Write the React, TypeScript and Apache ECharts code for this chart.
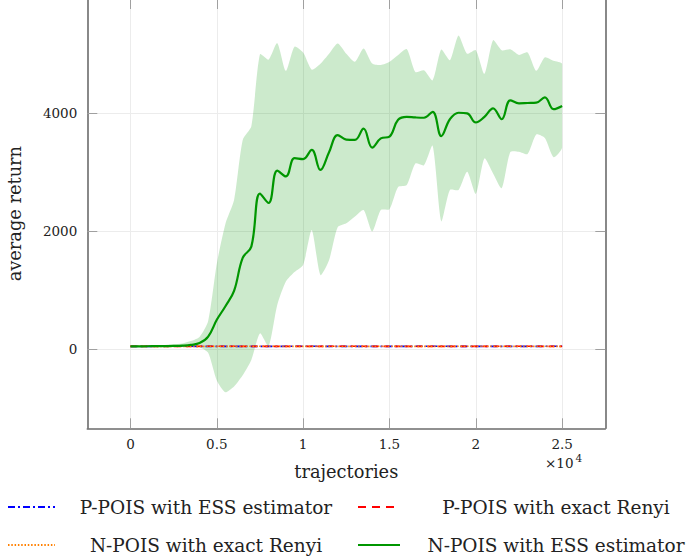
import React, { useEffect, useRef } from "react";
import * as echarts from "echarts";

// ---------- data ----------
const bandX = [
  0, 500, 1000, 1500, 2000, 2500, 3000, 3500, 4000, 4500,
  5000, 5500, 6000, 6500, 7000, 7500, 8000, 8500, 9000, 9500,
  10000, 10500, 11000, 11500, 12000, 12500, 13000, 13500, 14000, 14500,
  15000, 15500, 16000, 16500, 17000, 17500, 18000, 18500, 19000, 19500,
  20000, 20500, 21000, 21500, 22000, 22500, 23000, 23500, 24000, 24500,
  25000,
];
const meanReturn = [
  50, 50, 52, 53, 55, 57, 62, 75, 105, 215,
  500, 730, 990, 1550, 1740, 2640, 2480, 3030, 2930, 3240,
  3225, 3380, 3040, 3340, 3630, 3555, 3550, 3740, 3420, 3575,
  3605, 3890, 3940, 3930, 3925, 4025, 3615, 3900, 4010, 4000,
  3845, 3940, 4085, 3900, 4220, 4170, 4175, 4180, 4270, 4070,
  4125,
];
const upperBound = [
  60, 60, 65, 70, 75, 85, 100, 140, 210, 480,
  1450, 2130, 2530, 3550, 3780, 5000, 4910, 5190, 4720, 5130,
  5030, 4740, 4840, 5010, 5185, 5010, 4875, 5100, 4845, 4820,
  4875, 4990, 5090, 4700, 4730, 4560, 5080, 4900, 5320, 5010,
  5070, 4670, 5240, 5070, 5085, 4990, 5030, 4720, 4950, 4890,
  4835,
];
const lowerBound = [
  45, 45, 45, 45, 45, 44, 42, 40, 35, -60,
  -530, -730, -630, -440, -180, 270, 50, 750, 1150, 1310,
  1430, 2020, 1260, 1510, 2070, 2135, 2250, 2360, 1995, 2360,
  2375, 2750, 2785, 3150, 3120, 3450, 2170, 2700, 2700, 3010,
  2635, 3235, 2980, 2730, 3345, 3350, 3310, 3640, 3580, 3255,
  3420,
];
const flatX = [0, 2500, 5000, 7500, 10000, 12500, 15000, 17500, 20000, 22500, 25000];
const pPoisEss = [50, 51, 50, 50, 51, 50, 50, 51, 50, 50, 51];
const pPoisRenyi = [50, 50, 51, 50, 50, 51, 50, 50, 50, 51, 50];
const nPoisRenyi = [51, 50, 50, 51, 50, 50, 51, 50, 51, 50, 50];

const xTicks = [0, 5000, 10000, 15000, 20000, 25000];
const yTicks = [0, 2000, 4000];
const legendNames = [
  "P-POIS with ESS estimator",
  "P-POIS with exact Renyi",
  "N-POIS with exact Renyi",
  "N-POIS with ESS estimator",
];

const FONT = "DejaVu Serif";
const GREEN = "#009600";

export default function App() {
  const ref = useRef<HTMLDivElement>(null);

  useEffect(() => {
    if (!ref.current) return;
    const chart = echarts.init(ref.current, undefined, { renderer: "svg" });

    const zip = (xs: number[], ys: number[]) => xs.map((x, i) => [x, ys[i]]);
    const bandRows = bandX.map((x, i) => [x, lowerBound[i], upperBound[i]]);

    const axisLineStyle = { color: "#6b6b6b", width: 1.6 };
    const tickStyle = { color: "#a0a0a0", width: 1 };

    const option: any = {
      animation: false,
      textStyle: { fontFamily: FONT },
      grid: {
        left: 87.3,
        right: 82.7,
        top: -1,
        bottom: 129.7,
        containLabel: false,
        outerBoundsMode: "none",
      },
      xAxis: [
        {
          type: "value",
          position: "bottom",
          min: -2500,
          max: 27500,
          name: "trajectories",
          nameLocation: "middle",
          nameGap: 34,
          nameTextStyle: { fontFamily: FONT, fontSize: 17.8, color: "#222" },
          axisLine: { show: true, onZero: false, lineStyle: axisLineStyle },
          axisTick: { show: true, inside: true, length: 10, lineStyle: tickStyle, customValues: xTicks },
          axisLabel: {
            show: true,
            margin: 9,
            fontFamily: FONT,
            fontSize: 13.5,
            color: "#222",
            customValues: xTicks,
            formatter: (v: number) => String(v / 10000),
          },
          splitLine: { show: true, lineStyle: { color: "#ececec", width: 1 } },
        },
        {
          type: "value",
          position: "top",
          min: -2500,
          max: 27500,
          axisLine: { show: true, onZero: false, lineStyle: axisLineStyle },
          axisTick: { show: true, inside: true, length: 10, lineStyle: tickStyle, customValues: xTicks },
          axisLabel: { show: false },
          splitLine: { show: false },
        },
      ],
      yAxis: [
        {
          type: "value",
          position: "left",
          min: -1339,
          max: 5938,
          name: "average return",
          nameLocation: "middle",
          nameGap: 64,
          nameTextStyle: { fontFamily: FONT, fontSize: 17.8, color: "#222" },
          axisLine: { show: true, onZero: false, lineStyle: axisLineStyle },
          axisTick: { show: true, inside: true, length: 10, lineStyle: tickStyle, customValues: yTicks },
          axisLabel: {
            show: true,
            margin: 10,
            fontFamily: FONT,
            fontSize: 13.5,
            color: "#222",
            customValues: yTicks,
            formatter: (v: number) => String(v),
          },
          splitLine: { show: true, lineStyle: { color: "#ececec", width: 1 } },
        },
        {
          type: "value",
          position: "right",
          min: -1339,
          max: 5938,
          axisLine: { show: true, onZero: false, lineStyle: axisLineStyle },
          axisTick: { show: true, inside: true, length: 10, lineStyle: tickStyle, customValues: yTicks },
          axisLabel: { show: false },
          splitLine: { show: false },
        },
      ],
      series: [
        {
          name: "band",
          type: "custom",
          data: bandRows,
          encode: { x: 0, y: [1, 2] },
          silent: true,
          z: 1,
          renderItem: (params: any, api: any) => {
            if (params.dataIndex !== 0) return null;
            const top = bandRows.map((r) => api.coord([r[0], r[2]]));
            const bottom = bandRows.map((r) => api.coord([r[0], r[1]])).reverse();
            const pts = top.concat(bottom);
            return {
              type: "polygon",
              shape: { points: pts, smooth: 0.22, smoothConstraint: [pts[0], pts[0]] },
              style: { fill: "rgba(0,150,0,0.2)", stroke: "none" },
            };
          },
        },
        {
          name: legendNames[0],
          type: "line",
          data: zip(flatX, pPoisEss),
          symbol: "none",
          lineStyle: { color: "#0000ff", width: 1.6, type: [7, 3, 2, 3] },
          z: 2,
        },
        {
          name: legendNames[1],
          type: "line",
          data: zip(flatX, pPoisRenyi),
          symbol: "none",
          lineStyle: { color: "#ff0000", width: 1.6, type: [6, 5] },
          z: 2,
        },
        {
          name: legendNames[2],
          type: "line",
          data: zip(flatX, nPoisRenyi),
          symbol: "none",
          lineStyle: { color: "#ff8000", width: 1.6, type: [1.5, 1.8] },
          z: 2,
        },
        {
          name: legendNames[3],
          type: "line",
          data: zip(bandX, meanReturn),
          symbol: "none",
          smooth: 0.4,
          lineStyle: { color: GREEN, width: 2.2 },
          z: 3,
        },
      ],
      graphic: [
        {
          type: "text",
          left: 545,
          top: 456,
          style: { text: "×10", fontFamily: FONT, fontSize: 13.5, fill: "#222" },
        },
        {
          type: "text",
          left: 575.5,
          top: 452,
          style: { text: "4", fontFamily: FONT, fontSize: 10.5, fill: "#222" },
        },
        {
          type: "line",
          shape: { x1: 8, y1: 507, x2: 55, y2: 507 },
          style: { stroke: "#0000ff", lineWidth: 1.8, lineDash: [7, 3, 2, 3] },
        },
        {
          type: "text",
          x: 206,
          y: 507,
          style: {
            text: legendNames[0], fontFamily: FONT, fontSize: 18.5, fill: "#222",
            align: "center", verticalAlign: "middle",
          },
        },
        {
          type: "line",
          shape: { x1: 358, y1: 507, x2: 400, y2: 507 },
          style: { stroke: "#ff0000", lineWidth: 1.8, lineDash: [8, 6] },
        },
        {
          type: "text",
          x: 556,
          y: 507,
          style: {
            text: legendNames[1], fontFamily: FONT, fontSize: 18.5, fill: "#222",
            align: "center", verticalAlign: "middle",
          },
        },
        {
          type: "line",
          shape: { x1: 8, y1: 545, x2: 55, y2: 545 },
          style: { stroke: "#ff8000", lineWidth: 1.8, lineDash: [1.5, 1.8] },
        },
        {
          type: "text",
          x: 206,
          y: 545,
          style: {
            text: legendNames[2], fontFamily: FONT, fontSize: 18.5, fill: "#222",
            align: "center", verticalAlign: "middle",
          },
        },
        {
          type: "line",
          shape: { x1: 358, y1: 545, x2: 400, y2: 545 },
          style: { stroke: GREEN, lineWidth: 2.2 },
        },
        {
          type: "text",
          x: 556,
          y: 545,
          style: {
            text: legendNames[3], fontFamily: FONT, fontSize: 18.5, fill: "#222",
            align: "center", verticalAlign: "middle",
          },
        },
      ],
    };

    chart.setOption(option);
    return () => chart.dispose();
  }, []);

  return (
    <div
      ref={ref}
      style={{ position: "absolute", left: 0, top: 0, width: 688, height: 558, background: "#fff" }}
    />
  );
}
